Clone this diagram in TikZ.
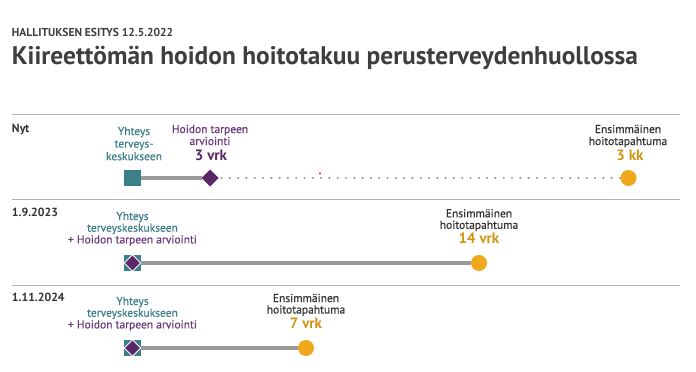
\documentclass[tikz,border=0pt]{standalone}
\usepackage{fontspec}
\setmainfont{PT Sans}
\usetikzlibrary{shapes.geometric}

\definecolor{otsikko}{HTML}{3E3E3E}
\definecolor{teksti}{HTML}{333333}
\definecolor{turkoosi}{HTML}{3D7F88}
\definecolor{violetti}{HTML}{6A3A7C}
\definecolor{violettitumma}{HTML}{5A2868}
\definecolor{oranssi}{HTML}{F0A81C}
\definecolor{oranssiteksti}{HTML}{D09612}
\definecolor{harmaa}{HTML}{9A9A9A}
\definecolor{viiva}{HTML}{B4B4B4}
\definecolor{punainen}{HTML}{D41A2E}

% monirivinen teksti, perusviiva ensimmäisellä rivillä
\newcommand{\rivit}[1]{\begin{tabular}[t]{@{}c@{}}#1\end{tabular}}

\begin{document}
\begin{tikzpicture}[x=1pt, y=-1pt,
    every node/.style={inner sep=0pt, outer sep=0pt},
    txt/.style={anchor=base, font=\fontsize{11.5}{12}\selectfont\addfontfeature{FakeBold=0.5}},
    pvm/.style={anchor=base west, text=teksti, font=\bfseries\fontsize{11.8}{12}\selectfont},
    aika/.style={anchor=base, font=\bfseries\fontsize{15}{16}\selectfont},
    nelio/.style={rectangle, fill=turkoosi, minimum size=16.5pt},
    vinonelio/.style={diamond, fill=violettitumma, minimum size=17pt},
    pallo/.style={circle, fill=oranssi, minimum size=16pt},
    jana/.style={draw=harmaa, line width=3.5pt},
    pisteet/.style={draw=harmaa, line width=2.4pt, line cap=round, dash pattern=on 0pt off 8.3pt, dash phase=-3pt},
    erotin/.style={draw=viiva, line width=0.9pt}]
\useasboundingbox (0,0) rectangle (696,372);

% otsikot
\node[anchor=base west, text=otsikko, font=\bfseries\fontsize{11.5}{14}\selectfont] (yla) at (12,36) {HALLITUKSEN ESITYS 12.5.2022};
\node[anchor=base west, text=otsikko, font=\bfseries\fontsize{25.4}{28}\selectfont] (otsikko) at (12,64.3) {Kiireettömän hoidon hoitotakuu perusterveydenhuollossa};

% erotinviivat
\draw[erotin] (12,114) -- (680,114);
\draw[erotin] (12,199) -- (680,199);
\draw[erotin] (12,285) -- (680,285);

% Nyt
\node[pvm] (nyt) at (12,132) {Nyt};
\node[txt, text=turkoosi] (yhteys1txt) at (134,135) {\fontsize{11.5}{12.6}\selectfont\rivit{Yhteys\\terveys-\\keskukseen}};
\node[txt, text=violetti] (arvio1txt) at (210,133) {\rivit{Hoidon tarpeen\\arviointi}};
\node[aika, text=violettitumma] (arvio1aika) at (211,160) {3 vrk};
\node[txt, text=teksti] (hoito1txt) at (628,133) {\rivit{Ensimmäinen\\hoitotapahtuma}};
\node[aika, text=oranssiteksti] (hoito1aika) at (630,160) {3 kk};

\node[nelio] (yhteys1) at (132.5,178) {};
\node[vinonelio] (arvio1) at (210,178) {};
\node[pallo] (hoito1) at (628.5,178) {};
\draw[jana] (yhteys1) -- (arvio1);
\draw[pisteet] (arvio1) -- (hoito1);
\fill[punainen] (320,173.3) circle (1.1pt);

% 1.9.2023
\node[pvm] (pvm2) at (12,216.7) {1.9.2023};
\node[txt, text=turkoosi] (yhteys2txt) at (132.5,220) {\fontsize{11.5}{11.7}\selectfont\rivit{Yhteys\\terveyskeskukseen\\{\color{violetti}+ Hoidon tarpeen arviointi}}};
\node[txt, text=teksti] (hoito2txt) at (479,217.3) {\fontsize{11.5}{11.2}\selectfont\rivit{Ensimmäinen\\hoitotapahtuma}};
\node[aika, text=oranssiteksti] (hoito2aika) at (479,243.3) {14 vrk};

\node[nelio] (yhteys2) at (132.5,263) {};
\node[vinonelio, draw=white, line width=0.8pt, minimum size=16.5pt] (arvio2) at (yhteys2) {};
\node[pallo] (hoito2) at (479,263) {};
\draw[jana] (yhteys2) -- (hoito2);

% 1.11.2024
\node[pvm] (pvm3) at (12,301.7) {1.11.2024};
\node[txt, text=turkoosi] (yhteys3txt) at (132.5,305) {\fontsize{11.5}{11.7}\selectfont\rivit{Yhteys\\terveyskeskukseen\\{\color{violetti}+ Hoidon tarpeen arviointi}}};
\node[txt, text=teksti] (hoito3txt) at (306,302) {\fontsize{11.5}{11.2}\selectfont\rivit{Ensimmäinen\\hoitotapahtuma}};
\node[aika, text=oranssiteksti] (hoito3aika) at (306,328) {7 vrk};

\node[nelio] (yhteys3) at (132.5,348) {};
\node[vinonelio, draw=white, line width=0.8pt, minimum size=16.5pt] (arvio3) at (yhteys3) {};
\node[pallo] (hoito3) at (306,348) {};
\draw[jana] (yhteys3) -- (hoito3);
\end{tikzpicture}
\end{document}
